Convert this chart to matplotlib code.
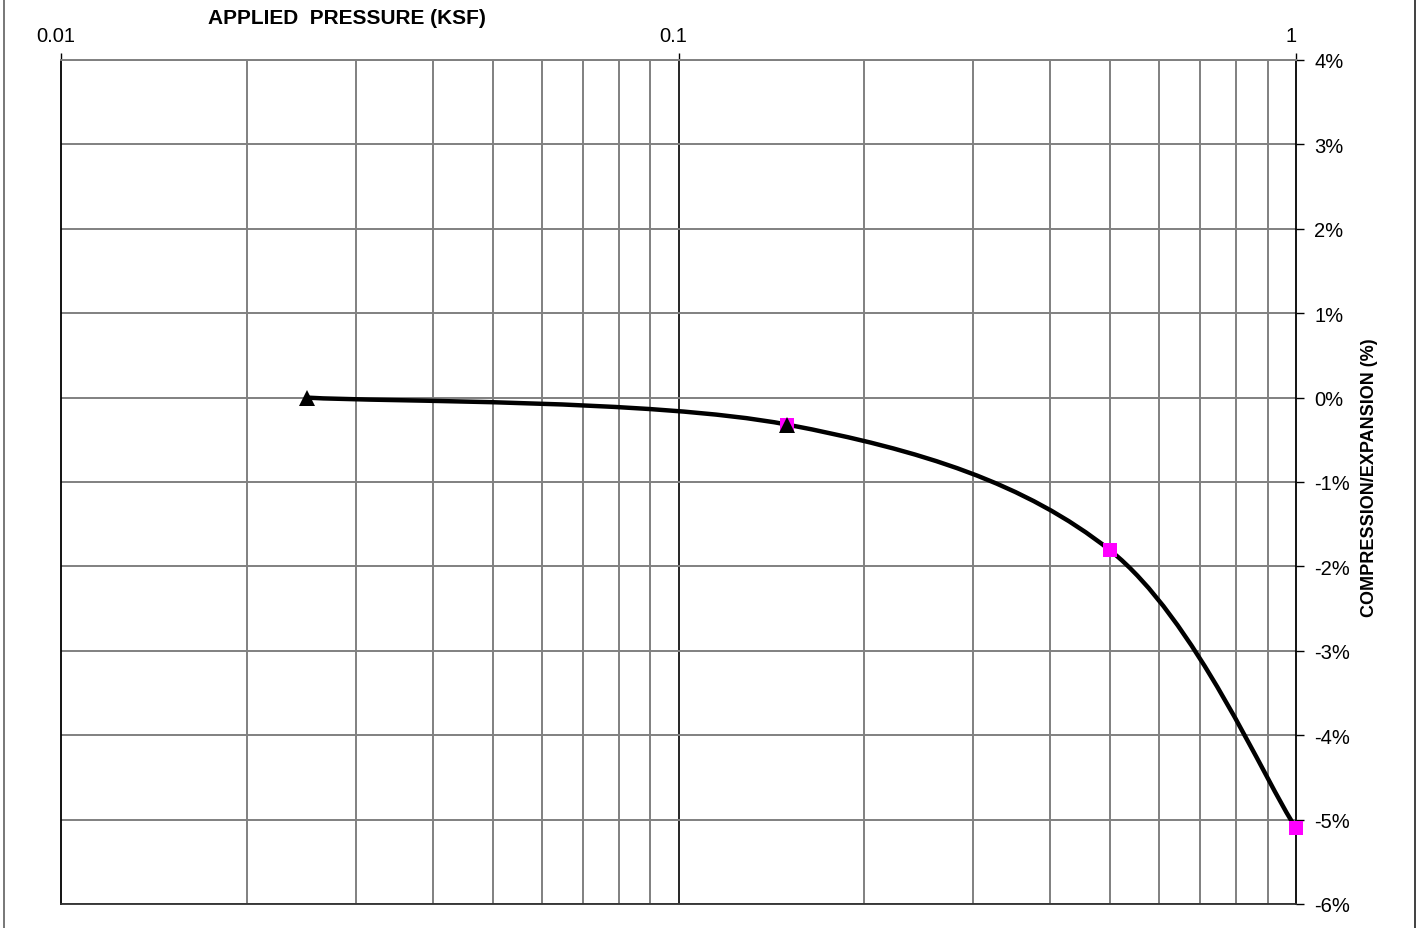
import numpy as np
import matplotlib
matplotlib.use("Agg")
import matplotlib.pyplot as plt
import matplotlib.transforms as mtransforms
from matplotlib.ticker import FixedLocator, FuncFormatter, NullFormatter
from matplotlib.path import Path
from matplotlib.patches import PathPatch
from matplotlib.lines import Line2D

plt.rcParams['font.family'] = ['Liberation Sans', 'DejaVu Sans']

# Data
curve_x = [0.025, 0.15, 0.5, 1.0]
curve_y = [0.0, -0.32, -1.81, -5.1]
tri_x = [0.025, 0.15]
tri_y = [0.0, -0.32]
sq_x = [0.15, 0.5, 1.0]
sq_y = [-0.32, -1.81, -5.1]
x_major = [0.01, 0.1, 1]
x_major_labels = ['0.01', '0.1', '1']
y_ticks = [-6, -5, -4, -3, -2, -1, 0, 1, 2, 3, 4]

W, H = 1421, 929
fig = plt.figure(figsize=(W / 100, H / 100), dpi=100)
ax = fig.add_axes([61 / W, 1 - 905 / H, (1296 - 61) / W, (905 - 61) / H])
ax.set_xscale('log')
ax.set_xlim(0.01, 1)
ax.set_ylim(-6, 4)

# grid
minor = [m * d for d in (0.01, 0.1) for m in range(2, 10)]
for v in minor:
    ax.axvline(v, color='#808080', lw=1.4, zorder=1)
ax.axvline(0.1, color='#000000', lw=1.2, zorder=1)
for v in y_ticks:
    ax.axhline(v, color='#808080', lw=1.4, zorder=1)

for s in ['left', 'right', 'bottom']:
    ax.spines[s].set_color('#000000')
    ax.spines[s].set_linewidth(1.3)
ax.spines['top'].set_color('#808080')
ax.spines['top'].set_linewidth(1.4)
ax.spines['bottom'].set_color('#303030')

# ticks
ax.xaxis.set_ticks_position('top')
ax.xaxis.set_major_locator(FixedLocator(x_major))
ax.xaxis.set_minor_locator(FixedLocator([]))
ax.set_xticklabels(x_major_labels)
ax.xaxis.set_minor_formatter(NullFormatter())
ax.tick_params(axis='x', which='major', direction='out', length=5, width=1,
               labelsize=14.5, pad=5.5, top=True, bottom=False)
ax.yaxis.set_ticks_position('right')
ax.yaxis.set_major_locator(FixedLocator(y_ticks))
ax.yaxis.set_major_formatter(FuncFormatter(lambda v, p: f'{int(round(v))}%'))
ax.tick_params(axis='y', direction='out', length=6, width=1, labelsize=14.5,
               pad=7, right=True, left=False)

shift = mtransforms.ScaledTranslation(-5 / 100, 0, fig.dpi_scale_trans)
for lbl in ax.xaxis.get_majorticklabels():
    lbl.set_transform(lbl.get_transform() + shift)

# smoothed curve (Catmull-Rom style, computed in display space)
fig.canvas.draw()
pts = ax.transData.transform(np.column_stack([curve_x, curve_y]))
n = len(pts)
verts = [pts[0]]
codes = [Path.MOVETO]
for i in range(n - 1):
    p0 = pts[i - 1] if i > 0 else pts[i]
    p1 = pts[i]
    p2 = pts[i + 1]
    p3 = pts[i + 2] if i + 2 < n else pts[i + 1]
    c1 = p1 + (p2 - p0) / 6.0
    c2 = p2 - (p3 - p1) / 6.0
    verts += [c1, c2, p2]
    codes += [Path.CURVE4] * 3
verts = ax.transData.inverted().transform(np.array(verts))
patch = PathPatch(Path(verts, codes), facecolor='none', edgecolor='black',
                  lw=3.2, zorder=3, transform=ax.transData, clip_on=False)
ax.add_patch(patch)

ax.plot(sq_x, sq_y, linestyle='none', marker='s', markersize=10,
        color='#FF00FF', markeredgewidth=0, zorder=4, clip_on=False)
ax.plot(tri_x, tri_y, linestyle='none', marker='^', markersize=11,
        color='black', markeredgewidth=0, zorder=5, clip_on=False)

fig.text(347 / W, 1 - 19 / H, 'APPLIED  PRESSURE (KSF)', ha='center', va='center',
         fontsize=15, fontweight='bold')
fig.text(1369 / W, 1 - 478 / H, 'COMPRESSION/EXPANSION (%)', ha='center', va='center',
         rotation=90, fontsize=13, fontweight='bold')

# figure border lines
fig.add_artist(Line2D([3.5 / W, 3.5 / W], [0, 1], color='#606060', lw=1.2))
fig.add_artist(Line2D([1414.5 / W, 1414.5 / W], [0, 1], color='#202020', lw=1.2))

fig.savefig('out.png', dpi=100)
